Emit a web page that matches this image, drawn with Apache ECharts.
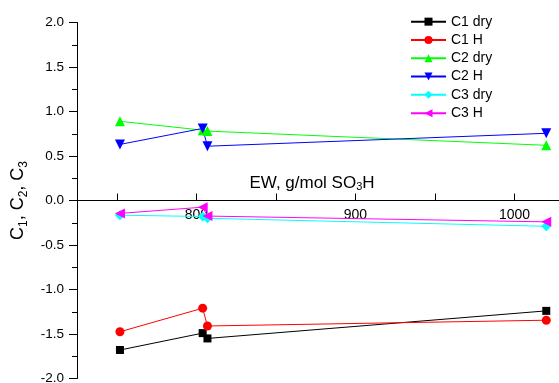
<!DOCTYPE html>
<html><head><meta charset="utf-8">
<script src="https://cdn.jsdelivr.net/npm/echarts@6/dist/echarts.min.js"></script>
<style>html,body{margin:0;padding:0;background:#fff;}#c{width:559px;height:383px;}</style>
</head><body><div id="c"></div>
<script>
var ewValues = [752, 804, 807, 1020];
var c1Dry = [-1.68, -1.49, -1.55, -1.24];
var c1H = [-1.475, -1.21, -1.41, -1.345];
var c2Dry = [0.89, 0.79, 0.78, 0.62];
var c2H = [0.63, 0.81, 0.61, 0.755];
var c3Dry = [-0.165, -0.18, -0.20, -0.29];
var c3H = [-0.145, -0.075, -0.175, -0.24];
var xTicks = [750, 800, 850, 900, 950, 1000];
var xLabels = [800, 900, 1000];
var seriesNames = ['C1 dry', 'C1 H', 'C2 dry', 'C2 H', 'C3 dry', 'C3 H'];

var FONT = 'Liberation Sans, Arial, sans-serif';
function pairs(ys){ return ewValues.map(function(x,i){ return [x, ys[i]]; }); }
function mk(name, ys, color, symbol, size, rot){
  return {
    name: name, type: 'line', data: pairs(ys),
    symbol: symbol, symbolSize: size, symbolRotate: rot || 0,
    lineStyle: {color: color, width: 1},
    itemStyle: {color: color},
    showAllSymbol: true, animation: false
  };
}
var chart = echarts.init(document.getElementById('c'));
chart.setOption({
  animation: false,
  grid: {left: 77, right: 0, top: 22.5, bottom: 4.5, containLabel: false, outerBoundsMode: 'none'},
  legend: {
    orient: 'vertical', left: 410, top: 12.5, padding: 0,
    itemWidth: 35, itemHeight: 10, itemGap: 0,
    textStyle: {fontFamily: FONT, fontSize: 14, lineHeight: 18.3, color: '#000'},
    data: seriesNames
  },
  xAxis: {
    type: 'value', min: 725, max: 1028,
    offset: -178,
    axisLine: {onZero: false, lineStyle: {color: '#000', width: 1}},
    axisTick: {show: true, inside: true, length: 7, customValues: xTicks, lineStyle: {color: '#000'}},
    axisLabel: {customValues: xLabels, fontFamily: FONT, fontSize: 14, color: '#000', margin: 8,
      formatter: function(v){ return String(v); }},
    splitLine: {show: false},
    name: 'EW, g/mol SO{s|3}H', nameLocation: 'middle', nameGap: -27,
    nameTextStyle: {fontFamily: FONT, fontSize: 17, color: '#000', padding: [0,12,0,0],
      rich: {s: {fontFamily: FONT, fontSize: 11, color: '#000', padding: [8,0,0,0], verticalAlign: 'bottom'}}}
  },
  yAxis: {
    type: 'value', min: -2, max: 2, interval: 0.5,
    axisLine: {show: true, onZero: false, lineStyle: {color: '#000', width: 1}},
    axisTick: {show: true, inside: false, length: 8, lineStyle: {color: '#000'}},
    minorTick: {show: true, splitNumber: 2, length: 5, lineStyle: {color: '#000'}},
    axisLabel: {fontFamily: FONT, fontSize: 13.5, color: '#000', margin: 13,
      formatter: function(v){ return v.toFixed(1); }},
    splitLine: {show: false},
    name: '{a|C}{s|1}{a|, C}{s|2}{a|, C}{s|3}', nameLocation: 'middle', nameRotate: 90, nameGap: 39,
    nameTextStyle: {
      rich: {
        a: {fontFamily: FONT, fontSize: 18, color: '#000', verticalAlign: 'top'},
        s: {fontFamily: FONT, fontSize: 12, color: '#000', padding: [9,0,0,0], verticalAlign: 'bottom'}
      }
    }
  },
  series: [
    mk('C1 dry', c1Dry, '#000000', 'rect', 8),
    mk('C1 H', c1H, '#ff0000', 'circle', 9),
    mk('C2 dry', c2Dry, '#00ff00', 'triangle', 10),
    mk('C2 H', c2H, '#0000ff', 'triangle', 10, 180),
    mk('C3 dry', c3Dry, '#00ffff', 'diamond', 10),
    mk('C3 H', c3H, '#ff00ff', 'triangle', 10, 90)
  ]
});
</script></body></html>
